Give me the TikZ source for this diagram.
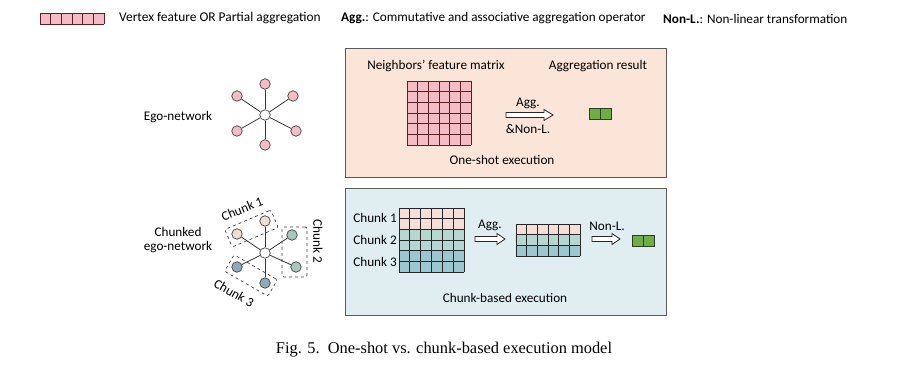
\documentclass[tikz,border=0pt]{standalone}
\usepackage{fontspec}
\setmainfont{Carlito}
\newfontfamily\capfont{Liberation Serif}
\definecolor{pinkcell}{HTML}{F4BCC4}
\definecolor{pinkline}{HTML}{5C1F24}
\definecolor{topfill}{HTML}{FBE4D8}
\definecolor{botfill}{HTML}{E0EEF2}
\definecolor{boxline}{HTML}{595959}
\definecolor{greencell}{HTML}{70AD47}
\definecolor{greenline}{HTML}{2A401C}
\definecolor{cA}{HTML}{F5DDD8}
\definecolor{cB}{HTML}{B6D7D0}
\definecolor{cC}{HTML}{9CC6D0}
\definecolor{nA}{HTML}{F0DDD5}
\definecolor{nB}{HTML}{AAC7BD}
\definecolor{nC}{HTML}{8FA9BB}
\definecolor{nodeline}{HTML}{404040}
\begin{document}
\begin{tikzpicture}[x=1pt,y=-1pt,
  txt/.style={font=\fontsize{13.2}{15.5}\selectfont, inner sep=0pt},
  vtx/.style={circle, draw=nodeline, line width=0.7pt, minimum size=10.5pt, inner sep=0pt},
  chunkbox/.style={draw=black!75, dashed, line width=0.7pt, rounded corners=2pt, minimum width=50pt, minimum height=19pt, inner sep=0pt},
  edge/.style={draw=black!80, line width=0.8pt},
  panel/.style={draw=boxline, line width=0.9pt},
  blockarrow/.style={draw=black!85, fill=white, line width=0.8pt, line join=miter}
]
\useasboundingbox (0,0) rectangle (921,371);

% ---------------- legend ----------------
\fill[pinkcell] (40,13) rectangle (104,24);
\foreach \i in {0,...,6} \draw[pinkline, line width=0.8pt] ({40+\i*64/6},13) -- ({40+\i*64/6},24);
\draw[pinkline, line width=0.8pt] (40,13) -- (104,13) (40,24) -- (104,24);
\node[txt, font=\fontsize{13.4}{16}\selectfont, anchor=west] (leg1) at (119,18.5) {Vertex feature OR Partial aggregation};
\node[txt, anchor=west] (leg2) at (341,18.5) {\textbf{Agg.}: Commutative and associative aggregation operator};
\node[txt, anchor=west] (leg3) at (663,18.5) {\textbf{Non-L.}: Non-linear transformation};

% ---------------- panels ----------------
\filldraw[panel, fill=topfill] (345,48) rectangle (666,177);
\filldraw[panel, fill=botfill] (345,188) rectangle (666,315);

% ---------------- ego network ----------------
\node[txt] (egolbl) at (178,117) {Ego-network};
\node[vtx, fill=white] (e0) at (265,115) {};
\node[vtx, fill=pinkcell] (e1) at (265,84) {};
\node[vtx, fill=pinkcell] (e2) at (237,96) {};
\node[vtx, fill=pinkcell] (e3) at (293,96) {};
\node[vtx, fill=pinkcell] (e4) at (237,131) {};
\node[vtx, fill=pinkcell] (e5) at (296,131) {};
\node[vtx, fill=pinkcell] (e6) at (265,145) {};
\foreach \n in {e1,e2,e3,e4,e5,e6} \draw[edge] (e0) -- (\n);

% ---------------- top panel content ----------------
\node[txt] (nfm) at (436,66) {Neighbors' feature matrix};
\node[txt] (agr) at (598,66) {Aggregation result};
\fill[pinkcell] (407,81) rectangle (471,145);
\foreach \i in {0,...,6} {
  \draw[pinkline, line width=0.8pt] ({407+\i*64/6},81) -- ({407+\i*64/6},145);
  \draw[pinkline, line width=0.8pt] (407,{81+\i*64/6}) -- (471,{81+\i*64/6});
}
\draw[blockarrow] (506,112.5) -- (544,112.5) -- (544,109.5) -- (553,115) -- (544,120.5) -- (544,117.5) -- (506,117.5) -- cycle;
\node[txt] (aggA) at (528,103) {Agg.};
\node[txt] (nlA) at (528,129) {\&Non-L.};
\filldraw[fill=greencell, draw=greenline, line width=0.8pt] (589,108) rectangle (611,119);
\draw[greenline, line width=0.8pt] (600,108) -- (600,119);
\node[txt] (ose) at (502,160) {One-shot execution};

% ---------------- chunked ego network ----------------
\node[txt, align=center] (cegolbl) at (178,240.5) {Chunked\\[-1.5pt]ego-network};
\node[vtx, fill=white] (c0) at (265,253) {};
\node[vtx, fill=nA] (c1) at (265,221) {};
\node[vtx, fill=nA] (c2) at (237,234) {};
\node[vtx, fill=nB] (c3) at (292,235) {};
\node[vtx, fill=nC] (c4) at (237,267) {};
\node[vtx, fill=nB] (c5) at (296,267) {};
\node[vtx, fill=nC] (c6) at (265,283) {};
\foreach \n in {c1,c2,c3,c4,c5,c6} \draw[edge] (c0) -- (\n);
\node[chunkbox, rotate=23] (cb1) at (251.5,228.5) {};
\node[chunkbox, minimum width=25pt, minimum height=50pt] (cb2) at (294.5,252) {};
\node[chunkbox, rotate=-30] (cb3) at (251,275.5) {};
\node[txt, rotate=22] (cl1) at (242,209) {Chunk 1};
\node[txt, rotate=-90] (cl2) at (318,241) {Chunk 2};
\node[txt, rotate=-30] (cl3) at (234,293) {Chunk 3};

% ---------------- bottom panel content ----------------
\foreach \r/\c in {0/cA,1/cA,2/cB,3/cB,4/cC,5/cC}
  \fill[\c] (399,{208+\r*64/6}) rectangle (464,{208+(\r+1)*64/6});
\foreach \i in {0,...,6} {
  \draw[black!85, line width=0.8pt] ({399+\i*65/6},208) -- ({399+\i*65/6},272);
  \draw[black!85, line width=0.8pt] (399,{208+\i*64/6}) -- (464,{208+\i*64/6});
}
\node[txt, anchor=east] (k1) at (397,218) {Chunk 1};
\node[txt, anchor=east] (k2) at (397,240) {Chunk 2};
\node[txt, anchor=east] (k3) at (397,262) {Chunk 3};

\draw[blockarrow] (475,236.5) -- (497,236.5) -- (497,233.5) -- (505,239) -- (497,244.5) -- (497,241.5) -- (475,241.5) -- cycle;
\node[txt] (aggB) at (490,225) {Agg.};

\foreach \r/\c in {0/cA,1/cB,2/cC}
  \fill[\c] (516,{224+\r*32/3}) rectangle (580,{224+(\r+1)*32/3});
\foreach \i in {0,...,6}
  \draw[black!85, line width=0.8pt] ({516+\i*64/6},224) -- ({516+\i*64/6},256);
\foreach \i in {0,...,3}
  \draw[black!85, line width=0.8pt] (516,{224+\i*32/3}) -- (580,{224+\i*32/3});

\draw[blockarrow] (592,236.5) -- (612,236.5) -- (612,233.5) -- (620,239) -- (612,244.5) -- (612,241.5) -- (592,241.5) -- cycle;
\node[txt] (nlB) at (607,226) {Non-L.};
\filldraw[fill=greencell, draw=greenline, line width=0.8pt] (632,235) rectangle (654,246);
\draw[greenline, line width=0.8pt] (643,235) -- (643,246);
\node[txt] (cbe) at (505,298) {Chunk-based execution};

% ---------------- caption ----------------
\node[inner sep=0pt, font=\capfont\fontsize{16.4}{19}\selectfont] (cap) at (444,350) {Fig. 5.\ \ One-shot vs. chunk-based execution model};
\end{tikzpicture}
\end{document}
